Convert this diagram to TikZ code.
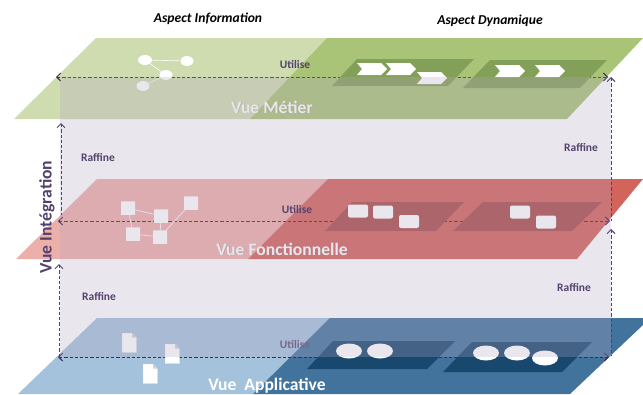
\documentclass[tikz,border=0pt]{standalone}
\usepackage{fontspec}
\setmainfont{Carlito}
\usetikzlibrary{arrows.meta,shapes.geometric}
\definecolor{gA}{RGB}{207,220,175}
\definecolor{gB}{RGB}{169,196,118}
\definecolor{gC}{RGB}{130,160,88}
\definecolor{rA}{RGB}{236,175,170}
\definecolor{rB}{RGB}{211,100,92}
\definecolor{rC}{RGB}{169,77,74}
\definecolor{bA}{RGB}{164,194,220}
\definecolor{bB}{RGB}{65,115,157}
\definecolor{bC}{RGB}{25,72,110}
\definecolor{lav}{RGB}{180,166,194}
\definecolor{ink}{RGB}{84,66,110}
\definecolor{inkd}{RGB}{62,42,88}
\definecolor{pale}{RGB}{234,230,238}
\tikzset{
  dashline/.style={draw=inkd,line width=1pt,dash pattern=on 3.2pt off 2pt,{Straight Barb[length=4pt,width=8pt,line width=1pt]}-{Straight Barb[length=4pt,width=8pt,line width=1pt]}},
  uparrow/.style={draw=ink,line width=1pt,dash pattern=on 3.2pt off 2pt,{Straight Barb[length=4pt,width=8pt,line width=1pt]}-},
  lbl/.style={text=ink,font=\bfseries\fontsize{11.5}{13}\selectfont,inner sep=0pt},
  viewlbl/.style={text=white,font=\bfseries\fontsize{17.6}{19}\selectfont,inner sep=0pt},
  shadowlbl/.style={text=black!45,opacity=.45,font=\bfseries\fontsize{17.6}{19}\selectfont,inner sep=0pt},
  aspect/.style={text=black,font=\bfseries\itshape\fontsize{13.6}{15}\selectfont,inner sep=0pt},
  dot/.style={ellipse,fill=white,inner sep=0pt},
  sq/.style={fill=white,rounded corners=.5pt,minimum width=14pt,minimum height=13.5pt,inner sep=0pt},
  rsq/.style={fill=white,rounded corners=2pt,minimum width=20pt,minimum height=13pt,inner sep=0pt},
  oval/.style={ellipse,fill=white,minimum width=26pt,minimum height=15pt,inner sep=0pt},
  chev/.style={fill=white},
  link/.style={draw=white,line width=.6pt},
}
\begin{document}
\begin{tikzpicture}[x=1pt,y=-1pt]
\useasboundingbox (0,0) rectangle (643,394);
% green plane
\fill[gA] (14,119) -- (96,38) -- (330,38) -- (250,119) -- cycle;
\fill[gB] (250,119) -- (327,38) -- (643,38) -- (567,119) -- cycle;
% red plane
\fill[rA] (16,259) -- (97,179) -- (332,179) -- (248,259) -- cycle;
\fill[rB] (248,259) -- (328,179) -- (643,179) -- (577,259) -- cycle;
% blue plane
\fill[bA] (18,394) -- (97,318) -- (332,318) -- (253,394) -- cycle;
\fill[bB] (253,394) -- (330,318) -- (643,318) -- (643,325) -- (570,394) -- cycle;
% horizontal dashed links
\coordinate (gl) at (56,77); \coordinate (gr) at (608,77);
\coordinate (rl) at (58,221); \coordinate (rr) at (610,221);
\coordinate (bl) at (58,357); \coordinate (br) at (609,357);
\path[dashline] (gl) -- (gr);
\path[dashline] (rl) -- (rr);
\path[dashline] (bl) -- (br);
% inner panels
\fill[gC] (357,59) -- (474,59) -- (448,86) -- (332,86) -- cycle;
\fill[gC] (490,60) -- (607,60) -- (580,88) -- (463,88) -- cycle;
\fill[bC] (333,341) -- (455,341) -- (427,369) -- (307,369) -- cycle;
\fill[bC] (472,342) -- (592,342) -- (562,372) -- (443,372) -- cycle;
\fill[rC] (325,231) -- (352,202) -- (464,202) -- (436,231) -- cycle;
\fill[rC] (453,231) -- (483,202) -- (602,202) -- (572,231) -- cycle;
% information: green
\node[dot,minimum width=14pt,minimum height=10pt] (g1) at (145,60) {};
\node[dot,minimum width=13pt,minimum height=10pt] (g2) at (187,61) {};
\node[dot,minimum width=13pt,minimum height=10pt] (g3) at (166,75) {};
\node[dot,minimum width=13pt,minimum height=10pt] (g4) at (143,86) {};
\draw[link] (g1) -- (g2) (g1) -- (g3) (g3) -- (g4);
% information: red
\node[sq] (r1) at (128,208) {};
\node[sq] (r2) at (161,216) {};
\node[sq] (r3) at (191,203) {};
\node[sq] (r4) at (133,234) {};
\node[sq] (r5) at (160,237) {};
\draw[link] (r1) -- (r2) (r1) -- (r4) (r4) -- (r5) (r2) -- (r5) (r3) -- (r5);
% information: blue documents
\foreach \n/\x/\y in {d1/122/333,d2/165/344,d3/143/364}{
  \path[fill=white,draw=black!18,line width=.4pt] (\x,\y) -- ++(10,0) -- ++(4.5,4.5) -- ++(0,15) -- ++(-14.5,0) -- cycle;
  \path[fill=black!18] (\x+10,\y) -- ++(4.5,4.5) -- ++(-4.5,0) -- cycle;
}
% dynamic: green chevrons
\foreach \x/\y in {357/63,386/63,417/72,495/65,535/65}{
  \fill[chev] (\x,\y) -- ++(24,0) -- ++(6,6) -- ++(-6,6) -- ++(-24,0) -- ++(5,-6) -- cycle;
}
% dynamic: red boxes
\node[rsq] (a1) at (358,211) {};
\node[rsq] (a2) at (383,212) {};
\node[rsq] (a3) at (409,221.5) {};
\node[rsq] (a4) at (520,212) {};
\node[rsq] (a5) at (546,222) {};
% dynamic: blue ovals
\node[oval] (o1) at (349,351) {};
\node[oval] (o2) at (380,351) {};
\node[oval] (o3) at (486,353) {};
\node[oval] (o4) at (517,353) {};
\node[oval] (o5) at (545,358) {};
% lavender overlay
\fill[lav,opacity=.28] (60,77) rectangle (611,357);
% vertical links
\coordinate (vla) at (61,123); \coordinate (vlb) at (61,215);
\coordinate (vlc) at (59,264); \coordinate (vld) at (59,357);
\coordinate (vra) at (611,77); \coordinate (vrb) at (611,221);
\coordinate (vrc) at (611,229); \coordinate (vrd) at (611,356);
\path[uparrow] (vla) -- (vlb);
\path[uparrow] (vlc) -- (vld);
\path[uparrow] (vra) -- (vrb);
\path[uparrow] (vrc) -- (vrd);
% labels
\node[aspect] (t1) at (208,19) {Aspect Information};
\node[aspect] (t2) at (490,21) {Aspect Dynamique};
\node[lbl] (u1) at (295,64) {Utilise};
\node[lbl] (u2) at (297,209) {Utilise};
\node[lbl,text=ink!80] (u3) at (295,344) {Utilise};
\node[lbl] (f1) at (98,157) {Raffine};
\node[lbl] (f2) at (99,296) {Raffine};
\node[lbl] (f3) at (581,147) {Raffine};
\node[lbl] (f4) at (574,287) {Raffine};
\node[shadowlbl] at (272.7,107.7) {Vue Métier};
\node[viewlbl,text=pale] (v1) at (272,107) {Vue Métier};
\node[shadowlbl] at (282.7,249.7) {Vue Fonctionnelle};
\node[viewlbl,text=pale] (v2) at (282,249) {Vue Fonctionnelle};
\node[viewlbl] (v3) at (267,386) {Vue\ \ Applicative};
\node[text=ink,font=\bfseries\fontsize{17.6}{19}\selectfont,rotate=90,inner sep=0pt] (vi) at (47,217) {Vue Intégration};
\end{tikzpicture}
\end{document}
